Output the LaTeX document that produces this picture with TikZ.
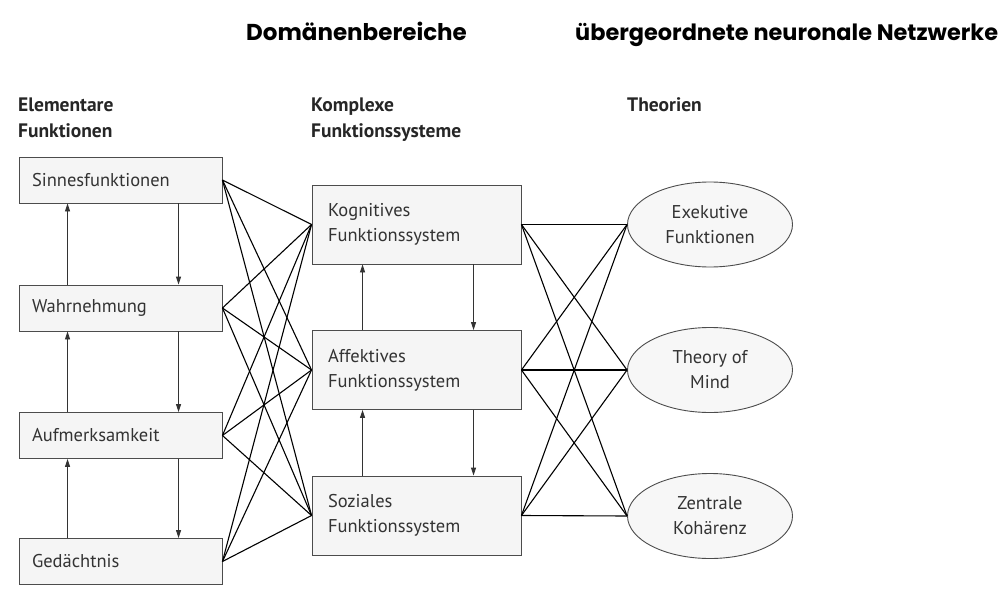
\documentclass[tikz,border=0pt]{standalone}
\usepackage{fontspec}
\setmainfont{PT Sans}
\newfontfamily\headfont{Poppins}
\usetikzlibrary{arrows.meta,shapes.geometric}
\begin{document}
\begin{tikzpicture}[x=1pt,y=-1pt,
  every node/.style={font=\fontsize{18.5}{25}\selectfont, text=black!80},
  lbox/.style={draw=black!70, fill=black!4, line width=0.9pt, minimum width=203pt, minimum height=46pt, text width=177pt, inner xsep=13pt, inner ysep=0pt, align=left},
  mbox/.style={draw=black!70, fill=black!4, line width=0.9pt, minimum width=209pt, minimum height=79pt, text width=177pt, inner xsep=16pt, inner ysep=0pt, align=left},
  theo/.style={ellipse, draw=black!70, fill=black!3, line width=0.9pt, minimum width=165pt, minimum height=85pt, inner sep=0pt, align=center},
  hdr/.style={font=\fontsize{19.5}{25}\selectfont\bfseries, text=black!85, align=left, anchor=base west, inner sep=0pt},
  top/.style={font=\headfont\fontsize{23}{28}\selectfont\bfseries, text=black, anchor=base west, inner sep=0pt},
  link/.style={draw=black, line width=1.1pt},
  arr/.style={draw=black!80, line width=0.9pt, -{Triangle[length=8pt,width=5pt]}}
]
\useasboundingbox (0,0) rectangle (1006,599);
\fill[white] (0,0) rectangle (1006,599);

% top headers
\node[top] (h1) at (246,41) {Domänenbereiche};
\node[top, font=\headfont\fontsize{22.4}{28}\selectfont\bfseries] (h2) at (575,41) {übergeordnete neuronale Netzwerke};

% column headers
\node[hdr] (c1) at (18,137) {Elementare\\Funktionen};
\node[hdr] (c2) at (311,137) {Komplexe\\Funktionssysteme};
\node[hdr] (c3) at (627,112) {Theorien};

% left boxes
\node[lbox] (s) at (120.5,180) {Sinnesfunktionen};
\node[lbox] (w) at (120.5,308) {Wahrnehmung};
\node[lbox] (a) at (120.5,435.5) {Aufmerksamkeit};
\node[lbox] (g) at (120.5,561.5) {Gedächtnis};

% middle boxes
\node[mbox] (k) at (416.5,224.5) {Kognitives\\Funktionssystem};
\node[mbox] (f) at (416.5,370) {Affektives\\Funktionssystem};
\node[mbox] (z) at (416.5,515.5) {Soziales\\Funktionssystem};

% ellipses
\node[theo] (e) at (710,224.5) {Exekutive\\Funktionen};
\node[theo] (t) at (710,370) {Theory of\\Mind};
\node[theo] (c) at (710,516) {Zentrale\\Kohärenz};

% vertical arrows, left column
\foreach \u/\l in {s/w, w/a, a/g}{
  \draw[arr] ([xshift=49pt]\l.north west) -- ([xshift=49pt]\u.south west);
  \draw[arr] ([xshift=160pt]\u.south west) -- ([xshift=160pt]\l.north west);
}
% vertical arrows, middle column
\foreach \u/\l in {k/f, f/z}{
  \draw[arr] ([xshift=51pt]\l.north west) -- ([xshift=51pt]\u.south west);
  \draw[arr] ([xshift=162pt]\u.south west) -- ([xshift=162pt]\l.north west);
}

% links left -> middle
\foreach \p in {s,w,a,g}{
  \foreach \q in {k,f,z}{
    \draw[link] (\p.east) -- (\q.west);
  }
}
% links middle -> theories
\foreach \p in {k,f,z}{
  \foreach \q in {e,t,c}{
    \draw[link] (\p.east) -- (\q.west);
  }
}
\end{tikzpicture}
\end{document}
